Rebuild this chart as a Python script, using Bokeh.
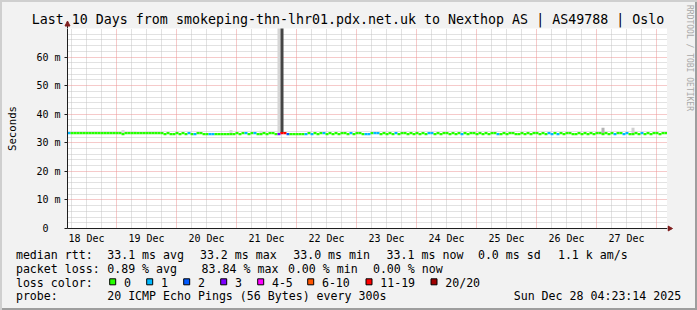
import numpy as np
from bokeh.plotting import figure
from bokeh.layouts import column, row
from bokeh.models import Range1d, FixedTicker, Grid
from bokeh.core.properties import value
from bokeh.embed import file_html
from bokeh.resources import INLINE

MONO = "DejaVu Sans Mono"

TITLE = "Last 10 Days from smokeping-thn-lhr01.pdx.net.uk to Nexthop AS | AS49788 | Oslo"
WATERMARK = "RRDTOOL / TOBI OETIKER"
START = "2025-12-18T04:23:14"
END = "2025-12-28T04:23:14"
BIN_MINUTES = 72

day_labels = ["18 Dec", "19 Dec", "20 Dec", "21 Dec", "22 Dec",
              "23 Dec", "24 Dec", "25 Dec", "26 Dec", "27 Dec"]
day_numbers = [18, 19, 20, 21, 22, 23, 24, 25, 26, 27]
y_ticks = [0, 10, 20, 30, 40, 50, 60]
y_labels = ["0\u00a0\u00a0", "10 m", "20 m", "30 m", "40 m", "50 m", "60 m"]

# median RTT (ms), one value per 72-minute bin
median_ms = [
    33.4, 33.4, 33.4, 33.4, 33.4, 33.4, 33.4, 33.4, 33.4, 33.4,
    33.4, 33.4, 33.4, 33.4, 33.4, 33.4, 33.4, 33.4, 33.0, 33.4,
    33.4, 33.4, 33.4, 33.4, 33.4, 33.4, 33.4, 33.4, 33.4, 33.4,
    33.4, 33.4, 33.0, 33.4, 33.0, 33.0, 33.4, 33.0, 33.4, 33.0,
    33.4, 33.0, 33.0, 33.4, 33.4, 33.0, 33.0, 33.0, 33.0, 33.0,
    33.0, 33.0, 33.0, 33.0, 33.0, 33.0, 33.4, 33.0, 33.4, 33.4,
    33.0, 33.4, 33.4, 33.0, 33.0, 33.4, 33.0, 33.4, 33.4, 33.0,
    33.0, 33.4, 33.4, 33.0, 33.0, 33.0, 33.0, 33.0, 33.0, 33.0,
    33.4, 33.0, 33.4, 33.0, 33.4, 33.4, 33.0, 33.4, 33.0, 33.4,
    33.0, 33.4, 33.4, 33.0, 33.4, 33.0, 33.4, 33.4, 33.0, 33.0,
    33.0, 33.4, 33.4, 33.4, 33.0, 33.4, 33.0, 33.4, 33.0, 33.4,
    33.0, 33.4, 33.4, 33.0, 33.4, 33.0, 33.4, 33.0, 33.4, 33.0,
    33.4, 33.4, 33.0, 33.4, 33.0, 33.4, 33.4, 33.0, 33.4, 33.0,
    33.4, 33.0, 33.4, 33.0, 33.4, 33.4, 33.0, 33.4, 33.0, 33.4,
    33.0, 33.4, 33.4, 33.0, 33.0, 33.4, 33.0, 33.4, 33.4, 33.0,
    33.0, 33.4, 33.0, 33.4, 33.0, 33.4, 33.4, 33.0, 33.4, 33.0,
    33.4, 33.0, 33.4, 33.0, 33.4, 33.0, 33.4, 33.4, 33.0, 33.0,
    33.4, 33.0, 33.4, 33.0, 33.4, 33.0, 33.4, 33.4, 33.0, 33.4,
    33.0, 33.4, 33.0, 33.4, 33.4, 33.0, 33.4, 33.0, 33.0, 33.4,
    33.0, 33.4, 33.0, 33.4, 33.0, 33.4, 33.4, 33.0, 33.4, 33.4,
]

# bins with packet loss (number of lost pings out of 20)
loss_bins = [0, 40, 42, 47, 48, 59, 62, 70, 71, 72, 73, 79, 81, 85, 94, 99, 100,
             102, 103, 109, 120, 121, 131, 143, 160, 161, 163, 182, 185, 186, 191]
loss_counts = [1, 1, 1, 1, 1, 1, 1, 3, 16, 16, 2, 1, 1, 1, 1, 1, 1,
               1, 1, 1, 1, 1, 1, 1, 1, 1, 1, 1, 1, 1, 1]

# smoke (spread of the individual pings above the median)
smoke_bins = [18, 23, 24, 25, 54, 64, 70, 71, 178, 188]
smoke_top_ms = [34.5, 34.0, 34.0, 34.0, 34.5, 34.2, 95.0, 95.0, 35.3, 35.3]
smoke_colors = ["#d8d8d8", "#ececec", "#ececec", "#ececec", "#d8d8d8",
                "#dedede", "#d6d6d6", "#454545", "#b4b4b4", "#d0d0d0"]

loss_levels = ["0", "1", "2", "3", "4-5", "6-10", "11-19", "20/20"]
loss_palette = ["#26ff00", "#00b8ff", "#0059ff", "#7e00ff",
                "#ff00ff", "#ff5500", "#ff0000", "#a00000"]

row_median = [("median rtt:", 16.0), ("33.1 ms avg", 107.3), ("33.2 ms max", 200.0),
              ("33.0 ms min", 293.3), ("33.1 ms now", 386.7), ("0.0 ms sd", 478.0),
              ("1.1 k am/s", 558.0)]
row_loss = [("packet loss:", 16.0), ("0.89 % avg", 107.3), ("83.84 % max", 201.7),
            ("0.00 % min", 288.0), ("0.00 % now", 373.0)]
swatch_left = [108.7, 145.7, 182.7, 219.7, 256.7, 306.7, 365.0, 430.0]
probe_text = "20 ICMP Echo Pings (56 Bytes) every 300s"
stamp_text = "Sun Dec 28 04:23:14 2025"

AXIS = "#1f1f1f"
ARROW = "#801f1f"
YSHIFT = 3.7  # alphabetic baseline correction


def ms(s):
    return float(np.datetime64(s, "ms").astype(np.int64))


def loss_index(n):
    if n <= 3:
        return n
    if n <= 5:
        return 4
    if n <= 10:
        return 5
    if n <= 19:
        return 6
    return 7


def strip(w, h, x0, y0):
    """A figure whose frame is the whole strip, in page-pixel coordinates."""
    f = figure(width=w, height=h, x_range=Range1d(x0, x0 + w), y_range=Range1d(y0 + h, y0),
               output_backend="svg", toolbar_location=None,
               x_axis_location=None, y_axis_location=None, min_border=0)
    f.grid.visible = False
    f.outline_line_color = None
    f.background_fill_alpha = 0
    f.border_fill_alpha = 0
    f.frame_align = False
    return f


t0, t1 = ms(START), ms(END)
bin_ms = BIN_MINUTES * 60000.0
edges = t0 + np.arange(len(median_ms) + 1) * bin_ms
left, right = edges[:-1], edges[1:]
med = np.array(median_ms)
loss = np.zeros(len(median_ms), dtype=int)
loss[loss_bins] = loss_counts
line_colors = [loss_palette[loss_index(n)] for n in loss]

noon_ticks = [ms(f"2025-12-{d}T12:00:00") for d in day_numbers]
midnights = [ms(f"2025-12-{d}T00:00:00") for d in range(19, 29)]
six_hours = [ms(f"2025-12-{d}T{h:02d}:00:00") for d in range(18, 29) for h in (6, 12, 18)]
six_hours = [t for t in six_hours if t0 < t < t1]

# ---- main chart: frame is the 600x200 graph area
p = figure(width=667, height=220, x_axis_type="datetime",
           x_range=Range1d(t0, t1), y_range=Range1d(0, 70),
           output_backend="svg", toolbar_location=None,
           min_border_left=67, min_border_right=0, min_border_top=0, min_border_bottom=20)
p.frame_align = False
p.background_fill_color = "white"
p.border_fill_alpha = 0
p.outline_line_color = None
p.grid.visible = False

p.xaxis.ticker = FixedTicker(ticks=noon_ticks, minor_ticks=[])
p.xaxis.major_label_overrides = {int(t): lab for t, lab in zip(noon_ticks, day_labels)}
p.xaxis.major_tick_in = 0
p.xaxis.major_tick_out = 0
p.xaxis.minor_tick_line_color = None
p.xaxis.major_label_standoff = 4
p.yaxis.ticker = FixedTicker(ticks=y_ticks, minor_ticks=[])
p.yaxis.major_label_overrides = {t: lab for t, lab in zip(y_ticks, y_labels)}
p.yaxis.major_tick_in = 0
p.yaxis.major_tick_out = 3
p.yaxis.minor_tick_line_color = None
p.yaxis.major_label_standoff = 4
p.yaxis.axis_label = "Seconds"
p.yaxis.axis_label_text_font = MONO
p.yaxis.axis_label_text_font_size = "10.7px"
p.yaxis.axis_label_text_font_style = "normal"
p.yaxis.axis_label_text_color = "black"
p.yaxis.axis_label_standoff = 14
for ax in (p.xaxis, p.yaxis):
    ax.axis_line_color = AXIS
    ax.major_tick_line_color = AXIS
    ax.major_label_text_font = MONO
    ax.major_label_text_font_size = "10px"
    ax.major_label_text_color = "black"

minor_y = [v for v in range(2, 71, 2) if v % 10 != 0]
major_y = [10, 20, 30, 40, 50, 60]
for dim, ticks, color in ((0, six_hours, "#c4c4c4"), (1, minor_y, "#c4c4c4"),
                          (0, midnights, "#ec9494"), (1, major_y, "#ec9494")):
    p.add_layout(Grid(dimension=dim, ticker=FixedTicker(ticks=ticks),
                      grid_line_color=color, grid_line_dash="1 1", grid_line_width=1))

# smoke
p.quad(left=left[smoke_bins], right=right[smoke_bins], bottom=med[smoke_bins],
       top=smoke_top_ms, fill_color=smoke_colors, line_color=None)
# median line coloured by loss
p.segment(x0=left, y0=med, x1=right, y1=med, line_color=line_colors,
          line_width=2.2, line_cap="butt")

# ---- title strip (page pixels 0..667 x 0..28)
top = strip(667, 28, 0, 0)
top.text(x=[347.5], y=[23.0 - YSHIFT], text=[TITLE], text_font=value(MONO),
         text_font_size="13.3px", text_align="center", text_baseline="alphabetic",
         text_color="black")
top.segment(x0=[67], y0=[24], x1=[67], y1=[28], line_color=AXIS, line_width=1)
top.patch(x=[64.5, 69.5, 67.0], y=[25.5, 25.5, 20.5], fill_color=ARROW, line_color=ARROW)

# ---- right strip (page pixels 667..697 x 0..248)
rs = strip(30, 248, 667, 0)
rs.text(x=[688.5], y=[4.5], text=[WATERMARK], text_font=value(MONO), text_font_size="8px",
        angle=-np.pi / 2, text_align="left", text_baseline="middle", text_color="#a8a8a8")
rs.segment(x0=[667], y0=[228], x1=[669], y1=[228], line_color=AXIS, line_width=1)
rs.patch(x=[667.5, 667.5, 672.0], y=[225.5, 230.5, 228.0], fill_color=ARROW, line_color=ARROW)

# ---- legend strip (page pixels 0..697 x 248..310)
p2 = strip(697, 62, 0, 248)
BASE = [258.3 - YSHIFT, 272.0 - YSHIFT, 285.7 - YSHIFT, 299.3 - YSHIFT]
tx, ty, tt = [], [], []
for txt, x in row_median:
    tx.append(x - 0.6); ty.append(BASE[0]); tt.append(txt)
for txt, x in row_loss:
    tx.append(x - 0.6); ty.append(BASE[1]); tt.append(txt)
tx.append(15.4); ty.append(BASE[2]); tt.append("loss color:")
for lv, x in zip(loss_levels, swatch_left):
    tx.append(x + 14.7); ty.append(BASE[2]); tt.append(lv)
tx += [15.4, 106.7]; ty += [BASE[3], BASE[3]]; tt += ["probe:", probe_text]
p2.text(x=tx, y=ty, text=tt, text_font=value(MONO), text_font_size="11.6px",
        text_baseline="alphabetic", text_align="left", text_color="black")
p2.text(x=[680.7], y=[BASE[3]], text=[stamp_text], text_font=value(MONO),
        text_font_size="11.6px", text_baseline="alphabetic", text_align="right",
        text_color="black")
sl = np.array(swatch_left)
p2.quad(left=sl + 0.5, right=sl + 6.5, top=[278.3] * len(sl), bottom=[284.3] * len(sl),
        fill_color=loss_palette, line_color="black", line_width=1)

layout = column(row(column(top, p), rs), p2,
                styles={"background-color": "#f2f2f2",
                        "box-shadow": "inset 2px 2px 0 0 #cfcfcf, inset -2px -2px 0 0 #9e9e9e"})

open("out.html", "w").write(file_html(layout, INLINE))
